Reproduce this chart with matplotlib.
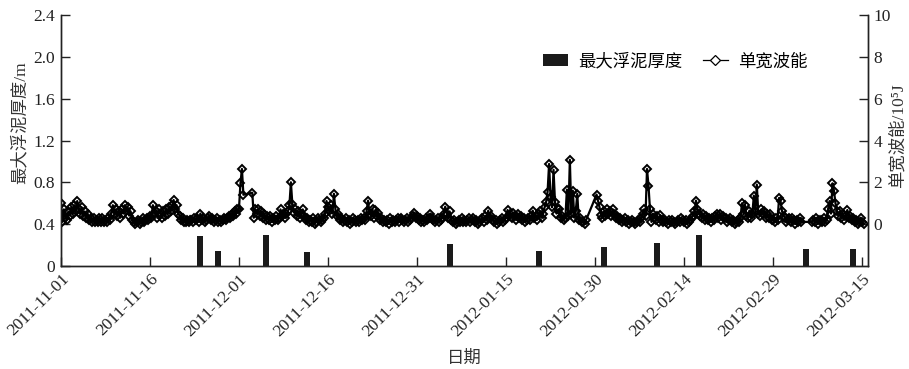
import numpy as np
import pandas as pd
import matplotlib
matplotlib.use('Agg')
import matplotlib.pyplot as plt
import matplotlib.dates as mdates

plt.rcParams['font.family'] = ['Liberation Serif', 'Noto Sans CJK SC', 'DejaVu Serif']

nan = np.nan

# wave energy per unit width (1e5 J), 6-hourly from 2011-11-01 00:00, nan = no record
energy = [
    1.0, 0.1, 0.7, 0.3,   0.2, 0.6, 0.4, 0.8,   0.5, 0.9, 0.6, 1.1,   0.7, 0.5, 0.8, 0.4,
    0.6, 0.3, 0.5, 0.2,   0.3, 0.1, 0.3, 0.1,   0.2, 0.1, 0.3, 0.1,   0.3, 0.1, 0.2, 0.1,
    0.3, 0.2, 0.5, 0.9,   0.5, 0.7, 0.4, 0.6,   0.3, 0.7, 0.5, 0.9,   0.6, 0.8, 0.4, 0.6,
    0.2, 0.1, 0.0, 0.1,   0.2, 0.0, 0.1, 0.3,   0.1, 0.2, 0.3, 0.2,   0.4, 0.3, 0.9, 0.5,
    0.6, 0.3, 0.7, 0.5,   0.3, 0.6, 0.4, 0.7,   0.5, 0.8, 0.6, 0.9,   1.15, 0.7, 0.9, 0.5,
    0.4, 0.2, 0.3, 0.1,   0.1, 0.2, 0.1, 0.2,   0.2, 0.1, 0.3, 0.2,   0.3, 0.1, 0.5, 0.2,
    0.3, 0.1, 0.2, 0.3,   0.4, 0.2, 0.3, 0.1,   0.2, 0.3, 0.1, 0.2,   0.1, 0.2, 0.3, 0.2,
    0.3, 0.4, 0.3, 0.5,   0.4, 0.6, 0.5, 0.7,   0.72, 1.95, 2.64, 1.4,  nan, nan, nan, nan,
    nan, 1.5, 0.3, 0.7,   0.5, 0.7, 0.4, 0.6,   0.3, 0.5, 0.2, 0.4,   0.2, 0.4, 0.1, 0.3,
    0.2, 0.4, 0.2, 0.3,   0.7, 0.4, 0.5, 0.3,   0.5, 0.6, 0.9, 2.0,   0.95, 0.55, 0.7, 0.4,
    0.6, 0.3, 0.5, 0.7,   0.4, 0.2, 0.3, 0.1,   0.2, 0.1, 0.3, 0.0,   0.1, 0.3, 0.2, 0.1,
    0.2, 0.3, 0.5, 1.1,   0.8, 0.6, 0.9, 0.5,   1.45, 0.7, 0.4, 0.5,  0.2, 0.3, 0.1, 0.2,
    0.3, 0.1, 0.2, 0.0,   0.1, 0.3, 0.2, 0.1,   0.2, 0.1, 0.3, 0.2,   0.3, 0.2, 0.6, 1.12,
    0.5, 0.4, 0.7, 0.3,   0.68, 0.4, 0.55, 0.2, 0.3, 0.1, 0.2, 0.1,   0.2, 0.0, 0.3, 0.1,
    0.2, 0.1, 0.2, 0.3,   0.1, 0.3, 0.2, 0.1,   0.2, 0.3, 0.1, 0.2,   0.3, 0.4, 0.55, 0.3,
    0.4, 0.2, 0.3, 0.1,   0.2, 0.1, 0.3, 0.2,   0.3, 0.5, 0.3, 0.2,   0.1, 0.2, 0.3, 0.1,
    0.2, 0.3, 0.5, 0.83,  0.5, 0.3, 0.6, 0.2,   0.1, 0.2, 0.0, 0.1,   0.2, 0.1, 0.3, 0.1,
    0.2, 0.1, 0.2, 0.3,   0.1, 0.2, 0.3, 0.1,   0.2, 0.0, 0.1, 0.2,   0.3, 0.1, 0.4, 0.2,
    0.64, 0.3, 0.4, 0.2,  0.1, 0.2, 0.0, 0.1,   0.2, 0.3, 0.1, 0.2,   0.3, 0.67, 0.4, 0.5,
    0.3, 0.55, 0.4, 0.2,  0.5, 0.3, 0.4, 0.2,   0.3, 0.1, 0.2, 0.3,   0.2, 0.4, 0.64, 0.3,
    0.4, 0.2, 0.5, 0.6,   0.3, 0.5, 0.8, 1.05,  1.55, 2.88, 1.3, 0.8, 2.6, 1.05, 0.5, 0.7,
    0.72, 0.3, 0.4, 0.2,  0.3, 1.65, 0.4, 3.08, 0.5, 1.6, 0.3, 0.6,   1.45, 0.2, 0.3, 0.1,
    0.1, 0.0, 0.2, nan,   nan, nan, nan, nan,   nan, 1.41, 1.1, 0.8,  0.45, 0.3, 0.6, 0.4,
    0.7, 0.5, 0.6, 0.4,   0.7, 0.5, 0.3, 0.4,   0.2, 0.3, 0.1, 0.2,   0.3, 0.1, 0.2, 0.0,
    0.1, 0.2, 0.1, 0.0,   0.1, 0.2, 0.1, 0.3,   0.5, 0.7, 0.4, 2.64,  1.84, 0.7, 0.1, 0.5,
    0.3, 0.2, 0.4, 0.1,   0.42, 0.2, 0.1, 0.2,  0.1, 0.0, 0.2, 0.1,   0.2, 0.1, 0.0, 0.1,
    0.2, 0.1, 0.3, 0.2,   0.1, 0.2, 0.0, 0.1,   0.2, 0.3, 0.4, 0.6,   1.12, 0.72, 0.5, 0.4,
    0.3, 0.5, 0.2, 0.4,   0.2, 0.3, 0.1, 0.3,   0.2, 0.4, 0.5, 0.3,   0.5, 0.2, 0.4, 0.3,
    0.3, 0.1, 0.2, 0.3,   0.1, 0.2, 0.0, 0.1,   0.2, 0.1, 0.3, 0.99,  0.5, 0.92, 0.4, 0.3,
    0.64, 0.3, 0.5, 1.36, 0.6, 1.89, 0.5, 0.4,  0.7, 0.5, 0.6, 0.3,   0.5, 0.3, 0.5, 0.2,
    0.2, 0.1, 0.3, 0.2,   1.25, 1.1, 0.6, 0.4,  0.3, 0.1, 0.2, 0.3,   0.1, 0.3, 0.2, 0.0,
    0.2, 0.1, 0.3, 0.1,   nan, nan, nan, nan,   nan, nan, 0.1, 0.2,   0.1, 0.3, 0.0, 0.2,
    0.2, 0.1, 0.3, 0.1,   0.2, 0.7, 1.1, 0.5,   1.95, 1.6, 1.0, 0.6,  0.4, 0.6, 0.3, 0.5,
    0.2, 0.4, 0.67, 0.3,  0.4, 0.2, 0.3, 0.1,   0.2, 0.0, 0.1, 0.3,   0.1, 0.0, nan, nan,
]

# maximum fluid mud thickness (m), one value per day
mud_dates = ['2011-11-24', '2011-11-27', '2011-12-05', '2011-12-12', '2012-01-05',
             '2012-01-20', '2012-01-31', '2012-02-09', '2012-02-16', '2012-03-05',
             '2012-03-13']
mud_thick = [0.28, 0.14, 0.29, 0.13, 0.21, 0.14, 0.18, 0.22, 0.29, 0.16, 0.16]

t = pd.date_range('2011-11-01', periods=len(energy), freq='6h')
e = np.array(energy, dtype=float)
ok = ~np.isnan(e)

fig = plt.figure(figsize=(9.09, 3.69), dpi=100)
ax = fig.add_axes([0.067, 0.28, 0.888, 0.678])
ax2 = ax.twinx()

bars = ax.bar(pd.to_datetime(mud_dates), mud_thick, width=1.0, align='edge',
              color='#1a1a1a', zorder=2)
# hollow diamonds: where the samples crowd together the outlines merge into a dark band
ax2.plot(t[ok], e[ok], '-', color='black', lw=1.6, marker='D', ms=4.4,
         mfc='none', mec='black', mew=1.4)
# legend handle with a white-filled diamond
handle, = ax2.plot([], [], '-', color='black', lw=0.9, marker='D', ms=4.8,
                   mfc='white', mec='black', mew=0.9)

ax.set_xlim(pd.Timestamp('2011-11-01'), pd.Timestamp('2012-03-16'))
ax.set_ylim(0, 2.4)
ax.set_yticks([0, 0.4, 0.8, 1.2, 1.6, 2.0, 2.4])
ax.set_yticklabels(['0', '0.4', '0.8', '1.2', '1.6', '2.0', '2.4'])
ax2.set_ylim(-2, 10)
ax2.set_yticks([0, 2, 4, 6, 8, 10])

ticks = pd.date_range('2011-11-01', '2012-03-15', freq='15D')
ax.set_xticks(ticks)
ax.xaxis.set_major_formatter(mdates.DateFormatter('%Y-%m-%d'))
for lab in ax.get_xticklabels():
    lab.set_rotation(45)
    lab.set_ha('right')
    lab.set_va('top')
    lab.set_rotation_mode('anchor')

for a in (ax, ax2):
    a.spines['top'].set_visible(False)
    for s in a.spines.values():
        s.set_linewidth(1.0)
        s.set_color('#222222')
    a.tick_params(direction='in', length=6.5, width=1.0, labelsize=12.5,
                  colors='#222222', pad=4)

ax.set_xlabel('日期', fontsize=12.5, color='#333333', labelpad=8)
ax.set_ylabel('最大浮泥厚度/m', fontsize=12.5, color='#333333')
ax.yaxis.set_label_coords(-0.040, 0.57)
ax2.set_ylabel('单宽波能/10\u2075J', fontsize=12.5, color='#333333', rotation=90)
ax2.yaxis.set_label_coords(1.027, 0.52)

ax2.legend([bars, handle], ['最大浮泥厚度', '单宽波能'], ncol=2, frameon=False,
           fontsize=12.5, loc='center left', bbox_to_anchor=(0.578, 0.814),
           handlelength=1.45, handletextpad=0.55, columnspacing=1.2, numpoints=1)

fig.savefig('out.png', dpi=100)
